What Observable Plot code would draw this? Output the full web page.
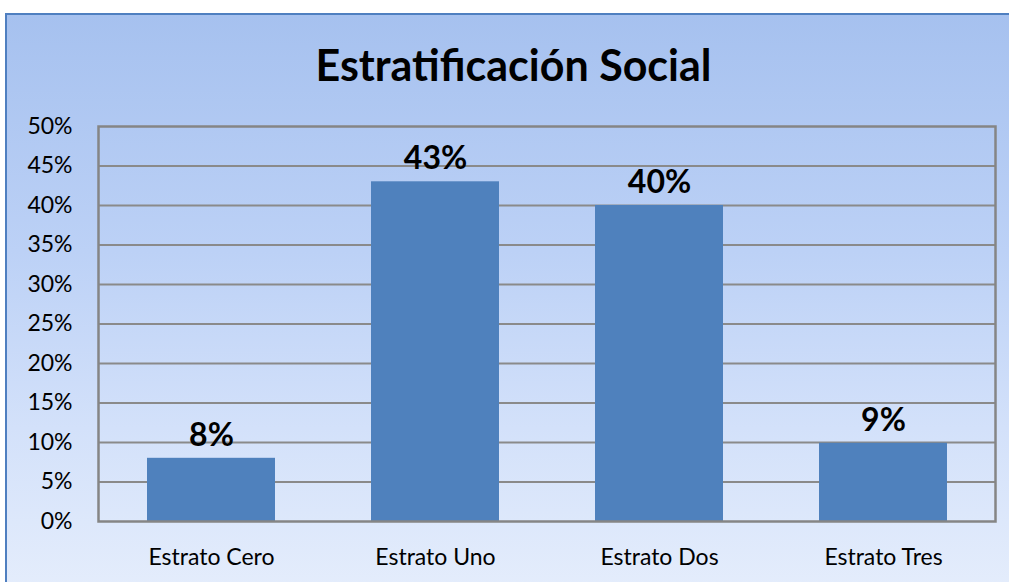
<!DOCTYPE html>
<html>
<head>
<meta charset="utf-8">
<script src="https://cdn.jsdelivr.net/npm/d3@7"></script>
<script src="https://cdn.jsdelivr.net/npm/@observablehq/plot@0.6"></script>
<style>
  html, body { margin: 0; padding: 0; background: #ffffff; }
  body { width: 1009px; height: 582px; overflow: hidden; position: relative; font-family: Lato, "Open Sans", sans-serif; }
  #bg {
    position: absolute; left: 5px; top: 13px; width: 1020px; height: 590px;
    border-left: 2px solid #4f7fc0; border-top: 2px solid #4f7fc0;
    background: linear-gradient(to bottom, #a6c1ef 0%, #bcd1f6 40%, #d3e1fa 70%, #e6eefc 100%);
  }
  #chart { position: absolute; left: 0; top: 0; width: 1009px; }
  #title {
    height: 110px; box-sizing: border-box; padding-top: 43px;
    text-align: center; font-weight: bold; font-size: 43px; line-height: 44px; color: #000;
    padding-left: 18px;
  }
</style>
</head>
<body>
<div id="bg"></div>
<div id="chart">
  <div id="title">Estratificación Social</div>
  <div id="plot"></div>
</div>
<script>
const categories = ["Estrato Cero", "Estrato Uno", "Estrato Dos", "Estrato Tres"];
const values = [8, 43, 40, 9.9];
const valueLabels = ["8%", "43%", "40%", "9%"];
const yTicks = [0, 5, 10, 15, 20, 25, 30, 35, 40, 45, 50];

const data = categories.map((c, i) => ({ cat: c, v: values[i], label: valueLabels[i] }));

const chart = Plot.plot({
  width: 1009,
  height: 472,
  marginTop: 16,
  marginBottom: 61,
  marginLeft: 98,
  marginRight: 14,
  style: { background: "transparent", fontFamily: "Lato, 'Open Sans', sans-serif", color: "#000" },
  x: { domain: categories, paddingInner: 0.43, paddingOuter: 0.215, label: null },
  y: { domain: [0, 50], label: null },
  marks: [
    Plot.ruleY(yTicks.filter(t => t > 0 && t < 50), { stroke: "#8a8a8a", strokeWidth: 2 }),
    Plot.barY(data, { x: "cat", y: "v", fill: "#4f81bd" }),
    Plot.frame({ stroke: "#858585", strokeWidth: 2.5 }),
    Plot.text(data, { x: "cat", y: "v", text: "label", dy: -23, fontSize: 32, fontWeight: "bold", fill: "#000" }),
    Plot.axisY({ ticks: yTicks, tickSize: 0, tickPadding: 26, tickFormat: d => d + "%", fontSize: 23, label: null }),
    Plot.axisX({ tickSize: 0, tickPadding: 27, fontSize: 23, label: null })
  ]
});
document.getElementById("plot").appendChild(chart);
</script>
</body>
</html>
